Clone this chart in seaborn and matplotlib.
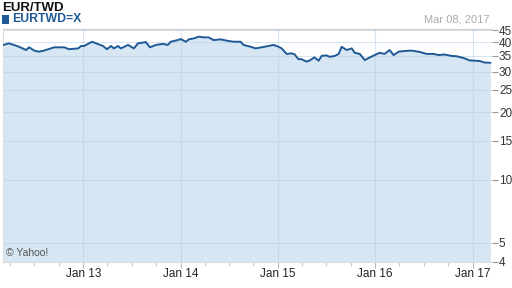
import numpy as np
import pandas as pd
import matplotlib
matplotlib.use("Agg")
import matplotlib.pyplot as plt
import matplotlib.dates as mdates
from matplotlib.patches import Rectangle
import seaborn as sns

# ---- data ----
dates = ["2012-03-08", "2012-03-28", "2012-04-16", "2012-05-05", "2012-06-01", "2012-06-12",
         "2012-07-01", "2012-07-19", "2012-08-07", "2012-08-26", "2012-09-14", "2012-10-22",
         "2012-11-08", "2012-12-13", "2012-12-24", "2013-01-04", "2013-02-03", "2013-02-26",
         "2013-03-16", "2013-03-31", "2013-04-15", "2013-04-26", "2013-05-11", "2013-05-22",
         "2013-06-18", "2013-07-10", "2013-07-25", "2013-08-24", "2013-09-08", "2013-10-01",
         "2013-10-27", "2013-11-14", "2013-11-25", "2013-12-21", "2014-01-02", "2014-01-21",
         "2014-02-01", "2014-02-20", "2014-03-10", "2014-03-29", "2014-04-16", "2014-05-05",
         "2014-05-31", "2014-06-27", "2014-07-19", "2014-08-14", "2014-08-25", "2014-09-21",
         "2014-10-10", "2014-11-01", "2014-11-27", "2014-12-16", "2015-01-04", "2015-01-15",
         "2015-02-03", "2015-02-22", "2015-03-04", "2015-03-19", "2015-03-31", "2015-04-18",
         "2015-04-29", "2015-05-18", "2015-06-03", "2015-06-14", "2015-07-02", "2015-07-14",
         "2015-08-02", "2015-08-17", "2015-08-28", "2015-09-16", "2015-10-05", "2015-10-16",
         "2015-11-04", "2015-11-23", "2015-12-12", "2015-12-30", "2016-01-17", "2016-02-05",
         "2016-02-24", "2016-03-10", "2016-03-29", "2016-04-20", "2016-05-16", "2016-06-16",
         "2016-07-12", "2016-08-07", "2016-08-26", "2016-09-17", "2016-10-13", "2016-11-01",
         "2016-11-27", "2016-12-20", "2017-01-08", "2017-01-27", "2017-02-14", "2017-03-08"]
rates = [39.0, 39.6, 39.0, 38.3, 37.1, 38.1,
         36.9, 36.5, 36.9, 37.5, 38.1, 38.1,
         37.4, 37.7, 38.6, 38.6, 40.25, 39.3,
         38.6, 37.4, 38.6, 37.7, 38.6, 37.7,
         39.0, 37.7, 39.6, 40.1, 38.1, 39.0,
         39.4, 39.0, 40.25, 40.9, 41.3, 40.25,
         41.2, 41.6, 42.3, 42.0, 42.0, 40.9,
         41.2, 40.6, 40.25, 40.25, 39.0, 38.3,
         37.7, 38.1, 38.6, 39.0, 38.3, 37.7,
         35.7, 35.9, 35.6, 33.9, 33.9, 33.1,
         33.4, 34.5, 33.4, 35.0, 35.2, 34.7,
         35.0, 35.7, 38.3, 37.1, 37.7, 36.1,
         35.7, 33.6, 34.5, 35.3, 36.1, 35.7,
         37.1, 35.3, 36.5, 36.75, 36.9, 36.4,
         35.7, 35.7, 35.3, 35.5, 35.0, 34.9,
         34.3, 33.5, 33.4, 33.3, 32.8, 32.7]
y_ticks = [4, 5, 10, 15, 20, 25, 30, 35, 40, 45]

df = pd.DataFrame({"date": pd.to_datetime(dates), "rate": rates})

LINE = "#1f5a96"
FILL = "#d6e6f2"

sns.set_theme(style="white")
plt.rcParams["font.family"] = ["Liberation Sans", "DejaVu Sans"]

fig = plt.figure(figsize=(5.12, 2.88), dpi=100)
ax = fig.add_axes([3 / 512, 26 / 288, 489 / 512, 233 / 288])

ax.set_yscale("function", functions=(lambda v: np.log10(np.asarray(v) + 1.0),
                                      lambda u: 10.0 ** np.asarray(u) - 1.0))
ymin, ymax = 4.0, 45.6
ax.set_ylim(ymin, ymax)
ax.set_xlim(pd.Timestamp("2012-03-06"), pd.Timestamp("2017-03-14"))

ax.fill_between(df["date"], df["rate"], ymin, color=FILL, lw=0, zorder=1)
sns.lineplot(data=df, x="date", y="rate", ax=ax, color=LINE, lw=1.4, zorder=3)

ax.set_axisbelow("line")
ax.grid(True, which="major", color="#b8cfe3", alpha=0.55, lw=0.8)

ax.yaxis.tick_right()
ax.set_yticks(y_ticks)
ax.set_yticklabels([str(t) for t in y_ticks])
ax.yaxis.set_minor_locator(matplotlib.ticker.NullLocator())
ax.xaxis.set_major_locator(mdates.MonthLocator(bymonth=1))
ax.xaxis.set_major_formatter(mdates.DateFormatter("%b %y"))
ax.xaxis.set_minor_locator(mdates.MonthLocator(bymonth=[4, 7, 10]))

ax.tick_params(axis="y", which="major", right=True, length=4, width=0.8, color="#999999",
               labelsize=8.5, labelcolor="#333333", pad=1)
ax.tick_params(axis="x", which="major", bottom=True, length=4, width=0.8, color="#bbbbbb",
               labelsize=8.5, labelcolor="#222222", pad=0.5)
ax.tick_params(axis="x", which="minor", bottom=True, length=3, width=0.8, color="#cccccc")
ax.set_xlabel("")
ax.set_ylabel("")

ax.spines["right"].set_visible(False)
ax.spines["top"].set_color("#cccccc")
ax.spines["left"].set_color("#dddddd")
ax.spines["bottom"].set_color("#dddddd")
for s in ax.spines.values():
    s.set_linewidth(0.8)

fig.text(2 / 512, 1 - 8 / 288, "EUR/TWD", fontsize=9.5, fontweight="bold",
         color="#111111", va="center", ha="left")
fig.patches.append(Rectangle((2 / 512, 1 - 24 / 288), 7 / 512, 9 / 288,
                             transform=fig.transFigure, color=LINE, lw=0))
fig.text(12 / 512, 1 - 19.5 / 288, "EURTWD=X", fontsize=8.8, fontweight="bold",
         color=LINE, va="center", ha="left")
fig.text(490 / 512, 1 - 19.5 / 288, "Mar 08, 2017", fontsize=8, color="#aaaaaa",
         va="center", ha="right")
ax.text(0.006, 0.039, "© Yahoo!", transform=ax.transAxes, fontsize=7.5, color="#555555",
        va="center", ha="left", zorder=4)

fig.savefig("out.png", dpi=100)
